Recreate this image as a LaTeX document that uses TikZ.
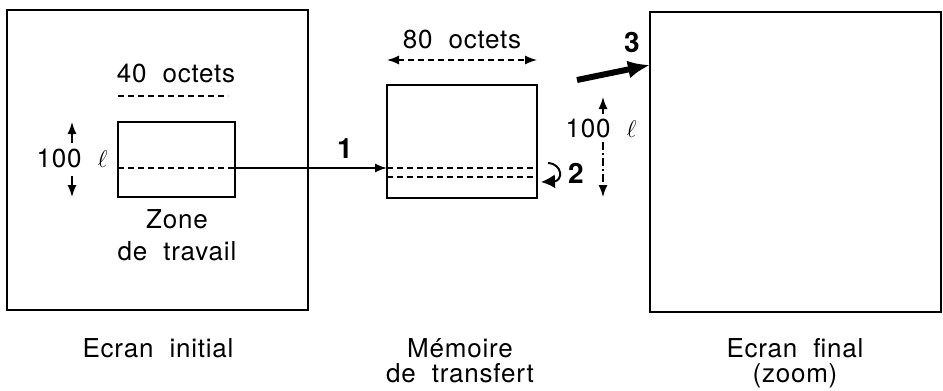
\documentclass[tikz,border=0pt]{standalone}
\usepackage{fontspec}
\setmainfont{TeX Gyre Heros}[LetterSpace=3, WordSpace=2]
\usetikzlibrary{arrows.meta}
\tikzset{
    boite/.style={draw, line width=1pt, inner sep=0pt, outer sep=0pt},
    texte/.style={font=\fontsize{13}{13}\selectfont, inner sep=0pt, anchor=base},
    numero/.style={font=\fontsize{14}{14}\selectfont\bfseries, inner sep=0pt, anchor=base},
    fleche/.style={line width=0.7pt, -{Latex[length=6pt,width=4.5pt]}},
    tiret/.style={dashed, dash pattern=on 3pt off 2pt, line width=0.7pt},
}
\begin{document}
\begin{tikzpicture}[x=0.5pt, y=-0.5pt]
    \useasboundingbox (0,0) rectangle (943,391);
    % les trois ecrans
    \node[boite, minimum width=150.5pt, minimum height=150pt] (init)    at (157.5,160)  {};
    \node[boite, minimum width=58.5pt,  minimum height=37.5pt] (zone)   at (176.5,159.5) {};
    \node[boite, minimum width=75pt,    minimum height=56.5pt] (memoire) at (462,141.5) {};
    \node[boite, minimum width=145.5pt, minimum height=150pt] (final)   at (795.5,162)  {};
    % lignes en pointilles
    \coordinate (ligne) at (zone.west |- 0,168);
    \draw[tiret] (ligne) -- (ligne -| zone.east);
    \draw[tiret] (memoire.west |- 0,168) -- (memoire.east |- 0,168);
    \draw[tiret] (memoire.west |- 0,177) -- (memoire.east |- 0,177);
    % textes
    \node[texte] (oct40) at (176,83) {40 octets};
    \draw[tiret] (118,96) -- (228,96);
    \node[texte] (lig1) at (72,167) {100 $\ell$};
    \draw[fleche] (72,143) -- (zone.north -| 72,0);
    \draw[fleche] (72,176) -- (zone.south -| 72,0);
    \node[texte] at (177,228) {Zone};
    \node[texte] at (177,260) {de travail};
    \node[texte] (oct80) at (462,48) {80 octets};
    \draw[tiret, {Latex[length=6pt,width=4.5pt]}-{Latex[length=6pt,width=4.5pt]}]
        (memoire.west |- 0,60) -- (memoire.east |- 0,60);
    \node[texte] (lig2) at (601,137) {100 $\ell$};
    \draw[fleche, dash pattern=on 4pt off 1.5pt on 1pt off 1.5pt] (603,114) -- (603,97);
    \draw[fleche, dash pattern=on 4pt off 1.5pt on 1pt off 1.5pt] (603,142) -- (603,197);
    % etapes
    \draw[fleche] (ligne -| zone.east) -- (ligne -| memoire.west);
    \node[numero] (un) at (345,158) {1};
    \draw[line width=1pt, -{Latex[length=7pt,width=7pt]}] (548,163) .. controls (563,164) and (563,181) .. (541,182);
    \node[numero] (deux) at (576,183) {2};
    \draw[line width=3pt, -{Latex[length=11pt,width=9pt]}] (577,80) -- (final.west |- 0,65);
    \node[numero] (trois) at (632,53) {3};
    % legendes
    \node[texte] at (158,357) {Ecran initial};
    \node[texte] at (460,357) {Mémoire};
    \node[texte] at (460,382) {de transfert};
    \node[texte] at (795,357) {Ecran final};
    \node[texte] at (795,382) {(zoom)};
\end{tikzpicture}
\end{document}
